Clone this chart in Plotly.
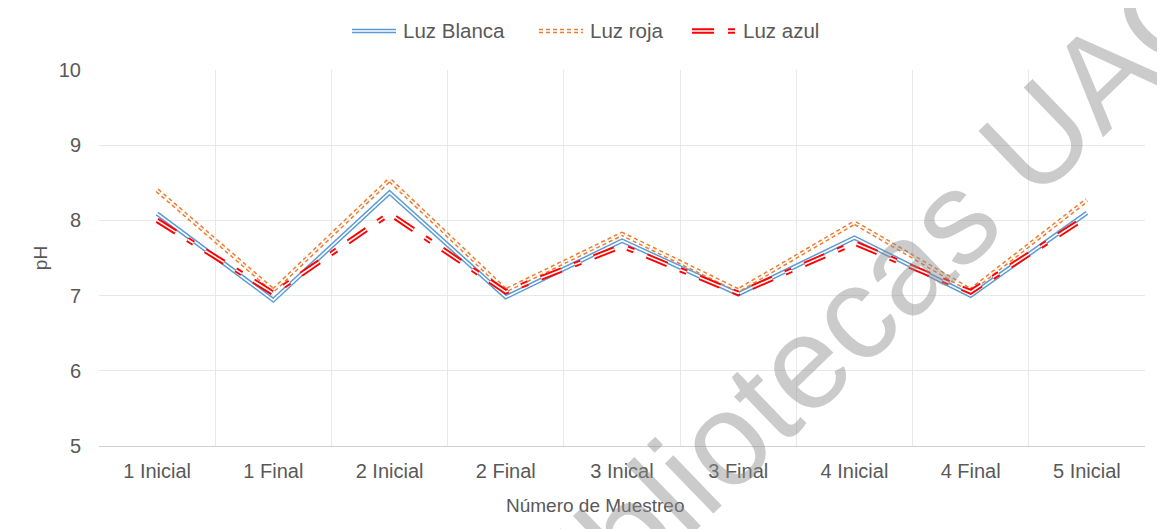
import plotly.graph_objects as go

categories = ["1 Inicial", "1 Final", "2 Inicial", "2 Final", "3 Inical",
              "3 Final", "4 Inicial", "4 Final", "5 Inicial"]
luz_blanca = [8.09, 6.94, 8.37, 6.98, 7.73, 7.02, 7.77, 7.00, 8.10]
luz_roja = [8.40, 7.07, 8.54, 7.07, 7.82, 7.07, 7.97, 7.07, 8.27]
luz_azul = [8.00, 7.03, 8.09, 7.05, 7.66, 7.03, 7.70, 7.05, 8.05]
y_ticks = [5, 6, 7, 8, 9, 10]

BLUE = "#5B9BD5"
ORANGE = "#ED7D31"
RED = "#FF0000"
TXT = "#595959"
FONT = "Liberation Sans, Arial, sans-serif"

series = [
    ("Luz Blanca", luz_blanca, BLUE, "solid", 4.6, 1.6),
    ("Luz roja", luz_roja, ORANGE, "4px,3px", 4.6, 1.6),
    ("Luz azul", luz_azul, RED, "22px,14px,7px,14px", 5.4, 1.6),
]

fig = go.Figure()
for name, vals, col, dash, w, gap in series:
    fig.add_trace(go.Scatter(x=categories, y=vals, mode="lines", name=name,
                             line=dict(color=col, width=w, dash=dash),
                             showlegend=False))
    fig.add_trace(go.Scatter(x=categories, y=vals, mode="lines", name=name,
                             line=dict(color="white", width=gap, dash=dash),
                             showlegend=False, hoverinfo="skip"))

# page offset (body margin) and plot area in page pixels
OFF = 8
L, R, T, B = 99 - OFF, 1145 - OFF, 70 - OFF, 446 - OFF
W = 1165
H = 529


def px(x):
    return (x - OFF - L) / (R - L)


def py(y):
    return (B - (y - OFF)) / (B - T)


shapes = []
# chart border
shapes.append(dict(type="rect", xref="paper", yref="paper",
                   x0=px(7), x1=px(1163), y0=py(4), y1=py(545),
                   line=dict(color="#D9D9D9", width=1.3), fillcolor="rgba(0,0,0,0)",
                   layer="below"))

# manual legend (double-line symbols)
legend_items = [
    ("Luz Blanca", BLUE, "solid", 4.6, 1.6, 352, 396, 401),
    ("Luz roja", ORANGE, "4px,3px", 4.6, 1.6, 539, 583, 588),
    ("Luz azul", RED, "22px,14px,7px,14px", 5.4, 1.6, 692, 736, 741),
]
annotations = []
ly = 31
for name, col, dash, w, gap, x0, x1, tx in legend_items:
    shapes.append(dict(type="line", xref="paper", yref="paper",
                       x0=px(x0), x1=px(x1), y0=py(ly), y1=py(ly),
                       line=dict(color=col, width=w, dash=dash)))
    shapes.append(dict(type="line", xref="paper", yref="paper",
                       x0=px(x0), x1=px(x1), y0=py(ly), y1=py(ly),
                       line=dict(color="white", width=gap, dash=dash)))
    annotations.append(dict(text=name, xref="paper", yref="paper",
                            x=px(tx), y=py(ly), xanchor="left", yanchor="middle",
                            showarrow=False, font=dict(size=20.5, color=TXT, family=FONT)))

# x-axis title (placed off-centre as in the reference)
annotations.append(dict(text="Número de Muestreo", xref="paper", yref="paper",
                        x=px(595), y=py(505), xanchor="center", yanchor="middle",
                        showarrow=False, font=dict(size=19, color=TXT, family=FONT)))

# watermark
annotations.append(dict(text="Bibliotecas UAQ", xref="paper", yref="paper",
                        x=px(862), y=py(306), xanchor="center", yanchor="middle",
                        textangle=-44, showarrow=False,
                        font=dict(size=132, color="rgba(140,140,140,0.45)", family=FONT)))

fig.update_layout(
    width=W, height=H,
    margin=dict(l=L, r=W - R, t=T, b=H - B),
    paper_bgcolor="white", plot_bgcolor="white",
    font=dict(family=FONT, color=TXT, size=20),
    showlegend=False,
    shapes=shapes,
    annotations=annotations,
)
fig.update_xaxes(
    type="category", categoryorder="array", categoryarray=categories,
    tickson="boundaries", showgrid=True, gridcolor="#E8E8E8", gridwidth=1,
    showline=True, linecolor="#D0D0D0", linewidth=1.3,
    ticks="", tickfont=dict(size=20, color=TXT), ticklabelstandoff=7,
    range=[-0.5, len(categories) - 0.5], zeroline=False,
)
fig.update_yaxes(
    range=[5, 10], tickvals=y_ticks, showgrid=True, gridcolor="#E8E8E8", gridwidth=1,
    showline=False, zeroline=False, ticks="", ticklabelstandoff=17,
    tickfont=dict(size=20, color=TXT),
    title=dict(text="pH", font=dict(size=19, color=TXT), standoff=6),
)

fig.write_html("out.html")
